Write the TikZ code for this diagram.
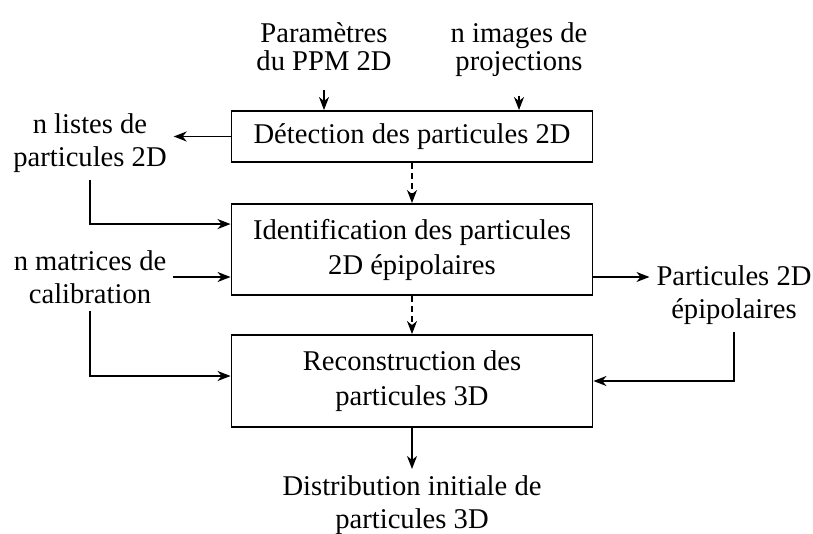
\documentclass[tikz,border=0pt]{standalone}
\usepackage{fontspec}
\setmainfont{Liberation Serif}
\usetikzlibrary{arrows.meta}
\tikzstyle{StepBox}=[rectangle, draw=black, line width=0.95pt, minimum width=180.5pt, inner sep=0pt, align=center, font=\fontsize{14.3}{17.5}\selectfont]
\tikzstyle{DataNode}=[align=center, font=\fontsize{14.3}{16.5}\selectfont]
\tikzstyle{TopNode}=[align=center, font=\fontsize{14.3}{14}\selectfont]
\tikzstyle{FlowEdge}=[-{Stealth[length=6.5pt, width=5pt, inset=2pt]}, line width=0.7pt]
\tikzstyle{SeqEdge}=[FlowEdge, dash pattern=on 3pt off 2pt]

\begin{document}
\begin{tikzpicture}[x=0.5pt, y=-0.5pt]
\useasboundingbox (0,0) rectangle (813,534);

\node[StepBox, minimum height=25.5pt](detect) at (412,136.5) {D\'etection des particules 2D};
\node[StepBox, minimum height=45.5pt](ident) at (412,249.5) {Identification des particules\\2D \'epipolaires};
\node[StepBox, minimum height=46pt](recon) at (412,381) {Reconstruction des\\particules 3D};

\node[TopNode](param) at (324,47) {Param\`etres\\du PPM 2D};
\node[TopNode](images) at (519,49.5) {n images de\\projections};
\node[DataNode](listes) at (90,143.5) {n listes de\\particules 2D};
\node[DataNode](matrices) at (90,277) {n matrices de\\calibration};
\node[DataNode](epipol) at (734,295.5) {Particules 2D\\\'epipolaires};
\node[DataNode](distrib) at (412,505.5) {Distribution initiale de\\particules 3D};
\coordinate (epiout) at (592,277);

\draw[FlowEdge]([yshift=-6pt]param.south) -- (param.south |- detect.north);
\draw[FlowEdge]([yshift=-6pt]images.south) -- (images.south |- detect.north);
\draw[FlowEdge](detect) -- (detect -| listes.east);
\draw[FlowEdge](listes.south) |- ([yshift=-10.5pt]ident.north west);
\draw[FlowEdge](matrices) -- (matrices -| ident.west);
\draw[FlowEdge](epiout) -- (epiout -| epipol.west);
\draw[FlowEdge](matrices.south) |- ([yshift=2.5pt]recon.west);
\draw[FlowEdge](epipol.south) |- (recon.east);
\draw[SeqEdge](detect) -- (ident);
\draw[SeqEdge](ident) -- (recon);
\draw[FlowEdge](recon) -- (distrib);

\end{tikzpicture}
\end{document}
